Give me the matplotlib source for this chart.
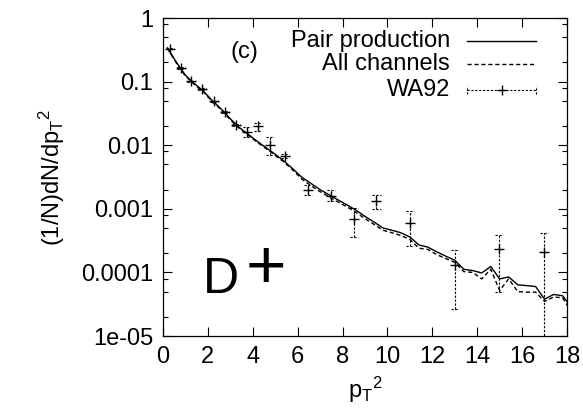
import matplotlib
matplotlib.use("Agg")
import matplotlib.pyplot as plt
from matplotlib.ticker import FixedLocator, FixedFormatter, NullFormatter

plt.rcParams['font.family'] = ['Liberation Sans', 'DejaVu Sans']
plt.rcParams['mathtext.default'] = 'regular'

# ---- model curves ----
pt2_model = [0.2, 0.6, 1.0, 1.4, 1.8, 2.2, 2.6, 3.0, 3.4, 3.8, 4.2, 4.6, 5.0, 5.4,
             5.8, 6.2, 6.6, 7.0, 7.4, 7.8, 8.2, 8.6, 9.0, 9.4, 9.8, 10.2, 10.6,
             11.0, 11.4, 11.8, 12.2, 12.6, 13.0, 13.4, 13.8, 14.2, 14.6, 15.0,
             15.4, 15.8, 16.2, 16.6, 17.0, 17.4, 17.8, 18.2]
pair_production = [0.34, 0.20, 0.126, 0.093, 0.071, 0.050, 0.037, 0.026, 0.019,
                   0.0148, 0.0115, 0.0091, 0.0072, 0.0056, 0.0042, 0.0031, 0.0025,
                   0.0020, 0.00166, 0.00138, 0.00115, 0.00095, 0.00076, 0.00062,
                   0.00050, 0.00046, 0.00042, 0.00036, 0.00027, 0.00025, 0.00021,
                   0.00018, 0.000155, 0.000112, 0.000107, 0.000098, 0.000124,
                   0.000079, 0.000085, 0.000064, 0.000062, 0.000060, 0.000038,
                   0.000045, 0.000043, 0.000028]
all_channels = [0.33, 0.195, 0.122, 0.090, 0.069, 0.048, 0.036, 0.025, 0.0184,
                0.0143, 0.0111, 0.0088, 0.0069, 0.0054, 0.0040, 0.0029, 0.0023,
                0.00186, 0.00154, 0.00128, 0.00107, 0.00088, 0.00070, 0.00057,
                0.00046, 0.00042, 0.00038, 0.00033, 0.00024, 0.00023, 0.00019,
                0.000165, 0.000144, 0.000103, 0.000100, 0.000079, 0.000112,
                0.000052, 0.000079, 0.000050, 0.000049, 0.000049, 0.000035,
                0.000041, 0.000040, 0.000024]

# ---- WA92 data ----
wa92_pt2 = [0.3, 0.79, 1.26, 1.74, 2.26, 2.75, 3.27, 3.76, 4.24, 4.75, 5.45,
            6.46, 7.5, 8.5, 9.51, 10.99, 13.0, 14.97, 16.98]
wa92_val = [0.33, 0.164, 0.101, 0.077, 0.049, 0.033, 0.0205, 0.016, 0.0198,
            0.0099, 0.0068, 0.0020, 0.00157, 0.00069, 0.00131, 0.00060,
            0.000132, 0.000234, 0.00021]
wa92_lo = [0.32, 0.159, 0.098, 0.075, 0.0477, 0.0321, 0.0198, 0.0134, 0.0166,
           0.0071, 0.0063, 0.00166, 0.00135, 0.00036, 0.00100, 0.00026,
           0.000027, 0.000050, 0.000005]
wa92_hi = [0.34, 0.169, 0.104, 0.079, 0.0503, 0.0339, 0.0212, 0.0192, 0.0226,
           0.0135, 0.0073, 0.0024, 0.00195, 0.00103, 0.00166, 0.00093,
           0.000222, 0.00039, 0.00041]

x_ticks = [0, 2, 4, 6, 8, 10, 12, 14, 16, 18]
y_ticks = [1e-5, 1e-4, 1e-3, 1e-2, 1e-1, 1]
y_tick_labels = ['1e-05', '0.0001', '0.001', '0.01', '0.1', '1']
y_minor = [m * d for d in [1e-5, 1e-4, 1e-3, 1e-2, 1e-1] for m in (2, 5, 8)]

FS = 17

fig = plt.figure(figsize=(5.83, 4.17), dpi=100)
ax = fig.add_axes([0.2796, 0.1942, 0.6930, 0.7626])

ax.plot(pt2_model, pair_production, color='black', lw=1.0, ls='-')
ax.plot(pt2_model, all_channels, color='black', lw=1.0, ls=(0, (3, 2)))

err_style = dict(color='black', lw=0.8, ls=(0, (2, 1.5)))
ax.vlines(wa92_pt2, wa92_lo, wa92_hi, **err_style)
cap_half = 0.18
ax.hlines(wa92_lo, [x - cap_half for x in wa92_pt2], [x + cap_half for x in wa92_pt2], **err_style)
ax.hlines(wa92_hi, [x - cap_half for x in wa92_pt2], [x + cap_half for x in wa92_pt2], **err_style)
ax.plot(wa92_pt2, wa92_val, ls='none', marker='+', color='black', ms=7, mew=1.0)

ax.set_yscale('log')
ax.set_xlim(0, 18)
ax.set_ylim(1e-5, 1)
ax.xaxis.set_major_locator(FixedLocator(x_ticks))
ax.set_xticklabels([str(t) for t in x_ticks])
ax.yaxis.set_major_locator(FixedLocator(y_ticks))
ax.yaxis.set_major_formatter(FixedFormatter(y_tick_labels))
ax.yaxis.set_minor_locator(FixedLocator(y_minor))
ax.yaxis.set_minor_formatter(NullFormatter())
ax.tick_params(which='both', direction='in', top=True, right=True,
               labelsize=FS, width=0.8, pad=7)
ax.tick_params(which='major', length=6.5)
ax.tick_params(which='minor', length=3.6)
ax.tick_params(axis='x', which='minor', bottom=False, top=False)
for s in ax.spines.values():
    s.set_linewidth(0.9)

ax.set_xlabel('p$_{T}$$^{2}$', fontsize=FS, labelpad=5)
ax.set_ylabel('(1/N)dN/dp$_{T}$$^{2}$', fontsize=FS, labelpad=10)

# annotations
ax.text(0.168, 0.893, '(c)', transform=ax.transAxes, fontsize=FS, va='center', ha='left')
ax.text(0.098, 0.135, 'D', transform=ax.transAxes, fontsize=36, va='baseline', ha='left')
ax.text(0.254, 0.152, '+', transform=ax.transAxes, fontsize=50, va='baseline', ha='center',
        fontweight='light')

# key
tx = 0.710
lx0, lx1 = 0.753, 0.924
rows = [0.929, 0.854, 0.774]
labels = ['Pair production', 'All channels', 'WA92']
for yr, lab in zip(rows, labels):
    ax.text(tx, yr, lab, transform=ax.transAxes, fontsize=FS, ha='right', va='center')
ax.plot([lx0, lx1], [rows[0]] * 2, transform=ax.transAxes, color='black', lw=1.0)
ax.plot([lx0, lx1], [rows[1]] * 2, transform=ax.transAxes, color='black', lw=1.0, ls=(0, (3, 2)))
ax.plot([lx0, lx1], [rows[2]] * 2, transform=ax.transAxes, **err_style)
for xe in (lx0, lx1):
    ax.plot([xe, xe], [rows[2] - 0.012, rows[2] + 0.012], transform=ax.transAxes, **err_style)
ax.plot([(lx0 + lx1) / 2], [rows[2]], transform=ax.transAxes, ls='none', marker='+',
        color='black', ms=7, mew=1.0)

fig.savefig('out.png', dpi=100)
